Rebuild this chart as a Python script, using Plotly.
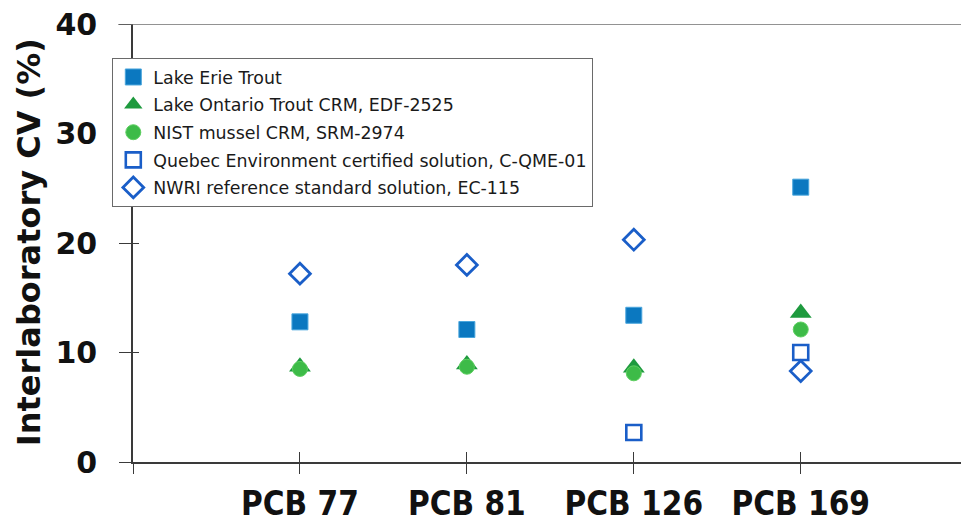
import plotly.graph_objects as go

# PCB congeners on the x axis
categories = ["PCB 77", "PCB 81", "PCB 126", "PCB 169"]

# Interlaboratory CV (%) per reference material
lake_erie_trout = [12.8, 12.1, 13.4, 25.1]
lake_ontario_crm = [8.7, 8.9, 8.6, 13.6]
nist_mussel = [8.5, 8.7, 8.1, 12.1]
quebec_solution = [None, None, 2.7, 10.0]
nwri_solution = [17.2, 18.0, 20.3, 8.3]

y_ticks = [0, 10, 20, 30, 40]

xpos = list(range(len(categories)))

series = [
    ("Lake Erie Trout", lake_erie_trout,
     dict(symbol="square", size=16, color="#0b78c0", line=dict(color="#4aa6dd", width=1))),
    ("Lake Ontario Trout CRM, EDF-2525", lake_ontario_crm,
     dict(symbol="triangle-up", size=19, color="#1e9a3e", line=dict(width=0))),
    ("NIST mussel CRM, SRM-2974", nist_mussel,
     dict(symbol="circle", size=15, color="#3dbb48", line=dict(color="#5fcf62", width=1))),
    ("Quebec Environment certified solution, C-QME-01", quebec_solution,
     dict(symbol="square-open", size=15, color="#1a5ec8", line=dict(width=2.6))),
    ("NWRI reference standard solution, EC-115", nwri_solution,
     dict(symbol="diamond-open", size=16, color="#1a5ec8", line=dict(width=2.8))),
]

fig = go.Figure()
for name, vals, marker in series:
    fig.add_trace(go.Scatter(
        x=xpos, y=vals, mode="markers", name=name, marker=marker,
        legendgroup=name, cliponaxis=False,
    ))

# invisible trace that carries the inner half of the crossing tick marks
fig.add_trace(go.Scatter(x=[xpos[0]], y=[y_ticks[0]], xaxis="x2", yaxis="y2",
                         mode="markers", marker=dict(opacity=0), showlegend=False,
                         hoverinfo="skip"))

x_range = [-1, 3.96]
y_range = [y_ticks[0], y_ticks[-1]]
axis_col = "#3a3a3a"

fig.update_layout(
    width=961, height=523,
    margin=dict(l=133, r=0, t=24, b=61),
    paper_bgcolor="white", plot_bgcolor="white",
    showlegend=True,
    legend=dict(
        x=-0.025, y=0.922, xanchor="left", yanchor="top",
        bgcolor="white", bordercolor="#6a6a6a", borderwidth=1,
        font=dict(family="DejaVu Sans", size=17.4, color="#1a1a1a"),
        tracegroupgap=2, itemsizing="trace",
    ),
    xaxis=dict(
        range=x_range, tickmode="array",
        tickvals=[-1] + xpos, ticktext=[""] + categories,
        ticks="outside", ticklen=10, tickwidth=1.2, tickcolor=axis_col,
        showline=True, linecolor=axis_col, linewidth=1.6, mirror=False,
        showgrid=False, zeroline=False, automargin=False,
        tickfont=dict(family="DejaVu Sans Condensed", size=33, color="#111111", weight="bold"),
        ticklabelstandoff=2,
    ),
    yaxis=dict(
        range=y_range, tickmode="array", tickvals=y_ticks,
        ticktext=[str(v) for v in y_ticks],
        ticks="outside", ticklen=12, tickwidth=1.2, tickcolor=axis_col,
        showline=True, linecolor=axis_col, linewidth=1.6,
        showgrid=False, zeroline=False, automargin=False,
        tickfont=dict(family="DejaVu Sans", size=30, color="#111111", weight="bold"),
        ticklabelstandoff=16,
    ),
    xaxis2=dict(
        overlaying="x", matches="x", anchor="y2", range=x_range,
        tickmode="array", tickvals=[-1] + xpos, ticks="inside", ticklen=10,
        tickwidth=1.2, tickcolor=axis_col, showticklabels=False,
        showline=False, showgrid=False, zeroline=False,
    ),
    yaxis2=dict(
        overlaying="y", matches="y", anchor="x2", range=y_range,
        tickmode="array", tickvals=y_ticks, ticks="inside", ticklen=6,
        tickwidth=1.2, tickcolor=axis_col, showticklabels=False,
        showline=False, showgrid=False, zeroline=False,
    ),
    shapes=[
        # frame line along the top of the plotting area
        dict(type="line", xref="paper", yref="y", x0=-0.018, x1=1, y0=y_ticks[-1], y1=y_ticks[-1],
             line=dict(color="#6e6e6e", width=1.6)),
    ],
    annotations=[
        dict(text="Interlaboratory CV (%)", textangle=-90, xref="paper", yref="paper",
             x=-0.1256, y=0.502, xanchor="center", yanchor="middle", showarrow=False,
             font=dict(family="DejaVu Sans", size=32, color="#111111", weight="bold")),
    ],
)

fig.write_html("out.html")
